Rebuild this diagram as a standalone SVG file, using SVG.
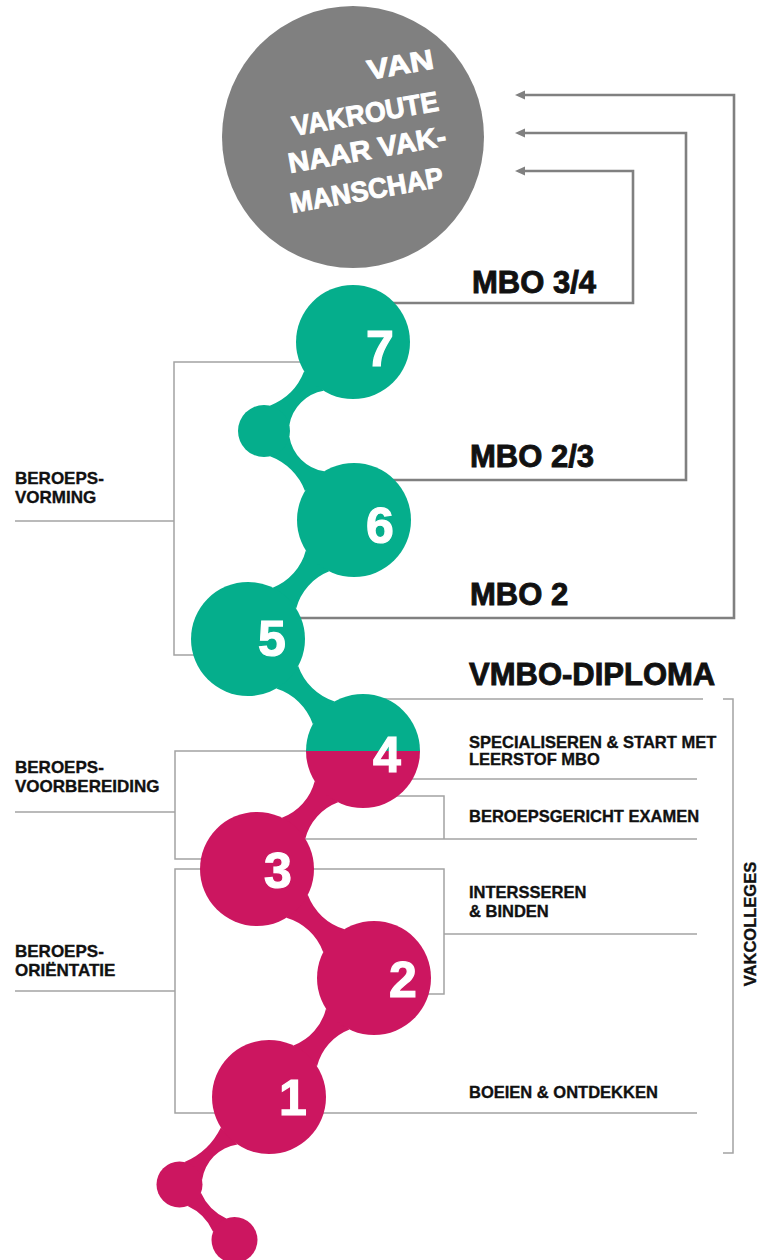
<svg xmlns="http://www.w3.org/2000/svg" width="757" height="1260" viewBox="0 0 757 1260">
<defs>
<style>
.t{font-family:'Liberation Sans',Arial,sans-serif;font-weight:bold;fill:#111111;stroke:#111111}
.sm{font-size:16.5px;stroke-width:0.35}
.lf{font-size:17px;stroke-width:0.35}
.big{font-size:31px;stroke-width:0.9}
.num{font-family:'Liberation Sans',Arial,sans-serif;font-weight:bold;font-size:50px;fill:#ffffff;stroke:#ffffff;stroke-width:1.2;text-anchor:middle}
.ttl{font-family:'Liberation Sans',Arial,sans-serif;font-weight:bold;font-size:28px;fill:#ffffff;stroke:#ffffff;stroke-width:0.9}
.br{fill:none;stroke:#a3a3a3;stroke-width:1.5}
.mbo{fill:none;stroke:#808080;stroke-width:2.6}
.teal{fill:#05ae8c}
.pink{fill:#cc1660}
</style>
<marker id="ah" markerUnits="userSpaceOnUse" markerWidth="10" markerHeight="10" viewBox="0 0 10 10" refX="5" refY="5" orient="auto">
<path d="M0,0.5 L10,5 L0,9.5 Z" fill="#808080"/>
</marker>
</defs>

<g id="title-node">
<circle cx="353" cy="137" r="131" fill="#808080"/>
<text class="ttl" x="369" y="80" textLength="67" lengthAdjust="spacingAndGlyphs" transform="rotate(-10 369 80)">VAN</text>
<text class="ttl" x="294" y="136" textLength="148" lengthAdjust="spacingAndGlyphs" transform="rotate(-10 294 136)">VAKROUTE</text>
<text class="ttl" x="290" y="173" textLength="160" lengthAdjust="spacingAndGlyphs" transform="rotate(-10 290 173)">NAAR VAK-</text>
<text class="ttl" x="292" y="213" textLength="155" lengthAdjust="spacingAndGlyphs" transform="rotate(-10 292 213)">MANSCHAP</text>
</g>

<g id="connectors">
<path class="mbo" d="M353 303 H633 V171 H520" marker-end="url(#ah)"/>
<path class="mbo" d="M354 480 H686 V133 H520" marker-end="url(#ah)"/>
<path class="mbo" d="M248 618 H734 V95 H520" marker-end="url(#ah)"/>
<path class="br" d="M353 362 H174 V655 H248"/>
<path class="br" d="M15 521 H174"/>
<path class="br" d="M363 751 H175 V859 H257"/>
<path class="br" d="M15 812 H175"/>
<path class="br" d="M374 994 H444 V869 H175 V1113 H697"/>
<path class="br" d="M15 991 H175"/>
<path class="br" d="M444 934 H697"/>
<path class="br" d="M363 699 H703"/>
<path class="br" d="M363 779 H697"/>
<path class="br" d="M363 796 H444 V839"/>
<path class="br" d="M257 839 H697"/>
<path class="br" d="M723 699 H733 V1153 H723"/>
</g>

<g id="chain-links">
<path class="teal" d="M304.14 371.36 A60 60 0 0 1 269.85 405.67 L289.33 425.15 A42 42 0 0 1 323.64 390.86 Z"/>
<path class="teal" d="M324.37 471.30 A42 42 0 0 1 289.37 436.71 L269.99 456.31 A60 60 0 0 1 304.97 490.92 Z"/>
<path class="teal" d="M305.82 550.46 A55 55 0 0 1 272.72 587.64 L296.18 608.54 A55 55 0 0 1 329.28 571.36 Z"/>
<path class="teal" d="M276.29 688.48 A57 57 0 0 1 312.79 724.02 L334.71 701.52 A57 57 0 0 1 298.21 665.98 Z"/>
<path class="pink" d="M314.69 781.26 A53 53 0 0 1 281.93 817.74 L305.31 838.74 A53 53 0 0 1 338.07 802.26 Z"/>
<path class="pink" d="M286.38 917.83 A56 56 0 0 1 323.20 952.15 L344.62 929.17 A56 56 0 0 1 307.80 894.85 Z"/>
<path class="pink" d="M325.97 1008.69 A53 53 0 0 1 293.47 1045.53 L317.03 1066.31 A53 53 0 0 1 349.53 1029.47 Z"/>
<path class="pink" d="M220.86 1127.50 A72 72 0 0 1 184.53 1162.06 L202.05 1179.98 A42 42 0 0 1 237.42 1144.44 Z"/>
<path class="pink" d="M187.65 1206.0 A51 51 0 0 1 213.07 1231.66 L226.35 1218.50 A51 51 0 0 1 200.93 1192.84 Z"/>
</g>

<g id="node-7"><circle class="teal" cx="353" cy="342" r="57"/><text class="num" x="380" y="366">7</text></g>
<g id="node-s1"><circle class="teal" cx="264" cy="431" r="26"/></g>
<g id="node-6"><circle class="teal" cx="354" cy="520" r="57"/><text class="num" x="380" y="543">6</text></g>
<g id="node-5"><circle class="teal" cx="248" cy="639" r="57"/><text class="num" x="272" y="656">5</text></g>
<g id="node-4">
<path class="teal" d="M306 751 A57 57 0 0 1 420 751 Z"/>
<path class="pink" d="M306 751 A57 57 0 0 0 420 751 Z"/>
<text class="num" x="387" y="772">4</text>
</g>
<g id="node-3"><circle class="pink" cx="257" cy="869" r="57"/><text class="num" x="278" y="888">3</text></g>
<g id="node-2"><circle class="pink" cx="374" cy="978" r="57"/><text class="num" x="403" y="997">2</text></g>
<g id="node-1"><circle class="pink" cx="269" cy="1097" r="57"/><text class="num" x="293" y="1115">1</text></g>
<g id="node-p1"><circle class="pink" cx="179.5" cy="1184.5" r="23"/></g>
<g id="node-p2"><circle class="pink" cx="234.5" cy="1240" r="23"/></g>

<g id="labels-mbo">
<text class="t big" x="472" y="293">MBO 3/4</text>
<text class="t big" x="470" y="467">MBO 2/3</text>
<text class="t big" x="470" y="605">MBO 2</text>
<text class="t big" x="469" y="685">VMBO-DIPLOMA</text>
</g>

<g id="labels-left">
<text class="t lf" x="15" y="484">BEROEPS-</text>
<text class="t lf" x="15" y="503">VORMING</text>
<text class="t lf" x="15" y="773">BEROEPS-</text>
<text class="t lf" x="15" y="792">VOORBEREIDING</text>
<text class="t lf" x="15" y="957">BEROEPS-</text>
<text class="t lf" x="15" y="976">ORIËNTATIE</text>
</g>

<g id="labels-right">
<text class="t sm" x="469" y="748">SPECIALISEREN &amp; START MET</text>
<text class="t sm" x="469" y="765">LEERSTOF MBO</text>
<text class="t sm" x="469" y="822">BEROEPSGERICHT EXAMEN</text>
<text class="t sm" x="469" y="898">INTERSSEREN</text>
<text class="t sm" x="469" y="917">&amp; BINDEN</text>
<text class="t sm" x="469" y="1098">BOEIEN &amp; ONTDEKKEN</text>
<text class="t sm" x="0" y="0" text-anchor="middle" font-size="17" transform="translate(756 924) rotate(-90)">VAKCOLLEGES</text>
</g>
</svg>
